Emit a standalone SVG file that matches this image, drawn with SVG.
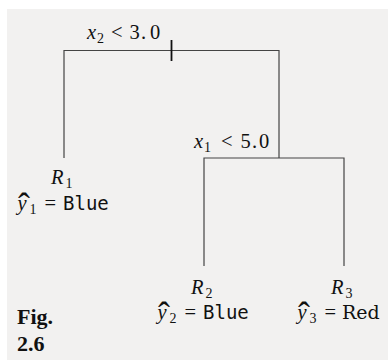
<svg xmlns="http://www.w3.org/2000/svg" width="388" height="363" viewBox="0 0 388 363">
<style>
.ln{stroke:#444;stroke-width:1.2;fill:none}
.tk{stroke:#111;stroke-width:1.8}
.m{font-family:"Liberation Serif",serif;font-size:20.5px;fill:#111}
.i{font-style:italic}
.sub{font-size:14px}
.hat{font-size:36px;font-style:normal}
.mono{font-family:"DejaVu Sans Mono",monospace;font-size:19px;fill:#111}
.red{font-family:"DejaVu Serif",serif;font-size:19px;fill:#111}
.fig{font-family:"Liberation Serif",serif;font-weight:bold;font-size:22px;fill:#111}
</style>
<rect x="0" y="0" width="388" height="363" fill="#ffffff"/>
<rect x="7" y="9" width="381" height="351" fill="#f2f1f0"/>
<g id="connectors">
<path class="ln" d="M64,158 V50.5 H279 V158"/>
<line class="tk" x1="171.5" y1="40" x2="171.5" y2="61"/>
<path class="ln" d="M204,266 V158 H344 V266"/>
</g>
<g id="split1">
<text class="m" y="38.5"><tspan class="i" x="87">x</tspan><tspan class="sub" x="97" dy="4">2</tspan><tspan x="111" dy="-4">&lt;</tspan><tspan x="129.5">3</tspan><tspan x="141">.</tspan><tspan x="150">0</tspan></text>
</g>
<g id="split2">
<text class="m" y="148"><tspan class="i" x="194">x</tspan><tspan class="sub" x="204" dy="4">1</tspan><tspan x="221" dy="-4">&lt;</tspan><tspan x="240.5">5</tspan><tspan x="252">.</tspan><tspan x="259">0</tspan></text>
</g>
<g id="R1">
<text class="m" y="184"><tspan class="i" x="51">R</tspan><tspan class="sub" x="65.5" dy="4">1</tspan></text>
<text class="m" y="210"><tspan class="i" x="17.5">y</tspan><tspan class="hat" x="18" dy="8">ˆ</tspan><tspan class="sub" x="29.5" dy="-4">1</tspan><tspan x="44.5" dy="-4">=</tspan><tspan class="mono" x="63">Blue</tspan></text>
</g>
<g id="R2">
<text class="m" y="294"><tspan class="i" x="191">R</tspan><tspan class="sub" x="205.5" dy="4">2</tspan></text>
<text class="m" y="319"><tspan class="i" x="157.5">y</tspan><tspan class="hat" x="158" dy="8">ˆ</tspan><tspan class="sub" x="169.5" dy="-4">2</tspan><tspan x="184.5" dy="-4">=</tspan><tspan class="mono" x="203">Blue</tspan></text>
</g>
<g id="R3">
<text class="m" y="294"><tspan class="i" x="331">R</tspan><tspan class="sub" x="345.5" dy="4">3</tspan></text>
<text class="m" y="319"><tspan class="i" x="297.5">y</tspan><tspan class="hat" x="298" dy="8">ˆ</tspan><tspan class="sub" x="309.5" dy="-4">3</tspan><tspan x="324.5" dy="-4">=</tspan><tspan class="red" x="342">Red</tspan></text>
</g>
<g id="caption">
<text class="fig" x="17" y="324">Fig.</text>
<text class="fig" x="17" y="351">2.6</text>
</g>
</svg>
